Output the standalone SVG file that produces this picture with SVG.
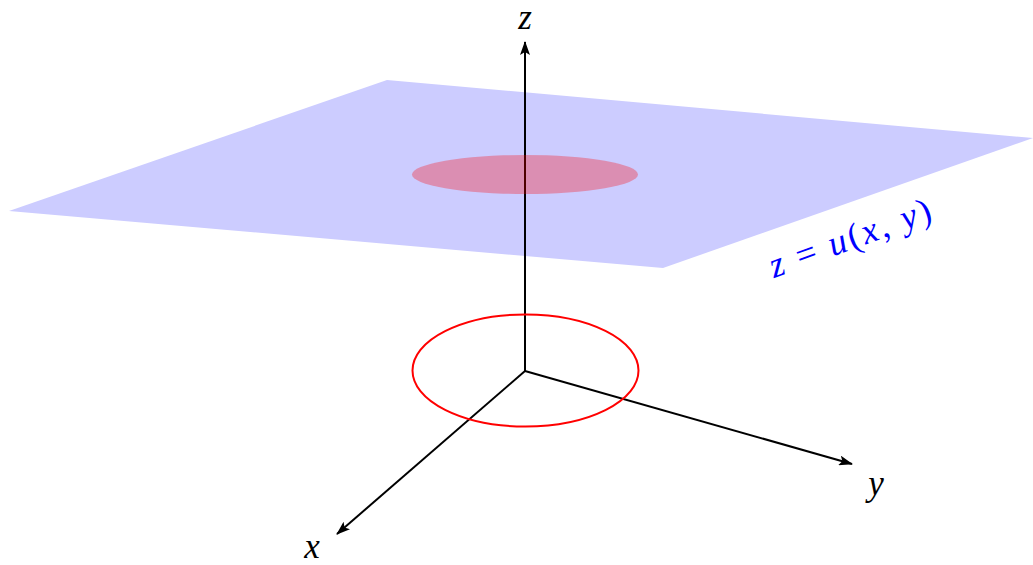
<svg xmlns="http://www.w3.org/2000/svg" width="1033" height="565" viewBox="0 0 1033 565">
<style>
.axis{stroke:#000;stroke-width:2;fill:none;marker-end:url(#ah)}
.lbl{font-family:"Liberation Serif","DejaVu Serif",serif;font-style:italic;font-size:35px;fill:#000;text-anchor:middle}
.math{font-family:"Liberation Serif","DejaVu Serif",serif;font-size:36px;fill:#0000ff}
.it{font-style:italic}
</style>
<defs>
<marker id="ah" markerWidth="14" markerHeight="10" refX="13" refY="5" orient="auto" markerUnits="userSpaceOnUse">
<path d="M0,0 L14,5 L0,10 L3,5 Z" fill="#000"/>
</marker>
</defs>
<rect width="1033" height="565" fill="#fff"/>
<g id="plane">
<polygon points="387,80 1033,138 663,268 9,211" fill="#ccccff"/>
</g>
<g id="connectors">
<line class="axis" x1="525" y1="371" x2="525" y2="42"/>
<line class="axis" x1="525" y1="371" x2="337" y2="534"/>
<line class="axis" x1="525" y1="371" x2="852" y2="464"/>
</g>
<g id="disk">
<ellipse cx="525" cy="174.5" rx="113" ry="19.5" fill="#ff0000" fill-opacity="0.3"/>
</g>
<g id="circle">
<ellipse cx="525.5" cy="370.5" rx="113" ry="56" fill="none" stroke="#ff0000" stroke-width="2"/>
</g>
<g id="labels">
<text class="lbl" x="525" y="29">z</text>
<text class="lbl" x="312" y="558">x</text>
<text class="lbl" x="876" y="495">y</text>
</g>
<g id="surface-label">
<text class="math" transform="translate(774,278) rotate(-20)" textLength="170" lengthAdjust="spacing"><tspan class="it">z</tspan> = <tspan class="it">u</tspan>(<tspan class="it">x</tspan>, <tspan class="it">y</tspan>)</text>
</g>
</svg>
